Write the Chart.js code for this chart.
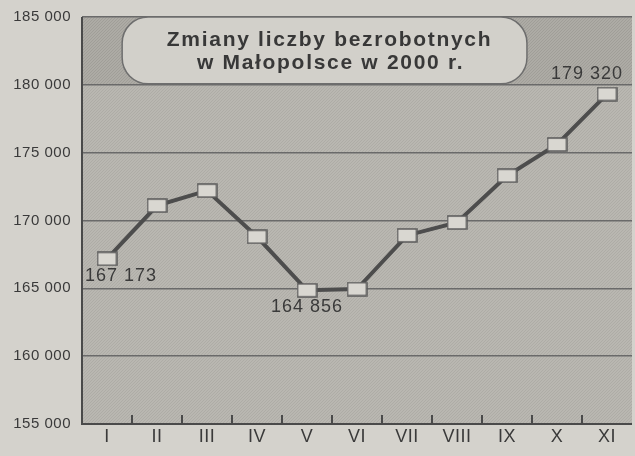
<!DOCTYPE html>
<html>
<head>
<meta charset="utf-8">
<script src="https://cdn.jsdelivr.net/npm/chart.js@4/dist/chart.umd.min.js"></script>
<style>
  html, body { margin: 0; padding: 0; background: #d4d2cc; }
  #wrap { width: 635px; height: 456px; position: relative; }
</style>
</head>
<body>
<div id="wrap"><canvas id="graphics" width="635" height="456"></canvas></div>
<script>
const months = ['I', 'II', 'III', 'IV', 'V', 'VI', 'VII', 'VIII', 'IX', 'X', 'XI'];
const unemployed = [167173, 171100, 172200, 168800, 164856, 164950, 168900, 169850, 173300, 175600, 179320];
const yTicks = [155000, 160000, 165000, 170000, 175000, 180000, 185000];
const titleLines = ['Zmiany liczby bezrobotnych', 'w Małopolsce w 2000 r.'];
const labelledPoints = [0, 4, 10];

const fmt = v => String(v).replace(/\B(?=(\d{3})+(?!\d))/g, ' ');
const FONT = '"Liberation Sans", Arial, sans-serif';

// rectangular marker
const marker = document.createElement('canvas');
marker.width = 21;
marker.height = 15;
(() => {
  const m = marker.getContext('2d');
  m.fillStyle = '#d9d7d1';
  m.fillRect(1, 1, 19, 13);
  m.strokeStyle = '#5a5a5a';
  m.lineWidth = 1.5;
  m.strokeRect(1, 1, 19, 13);
})();

// fine screen texture for the plot area
function texture(ctx, base, dot) {
  const t = document.createElement('canvas');
  t.width = 3;
  t.height = 3;
  const c = t.getContext('2d');
  c.fillStyle = base;
  c.fillRect(0, 0, 3, 3);
  c.fillStyle = dot;
  c.fillRect(0, 0, 1, 1);
  c.fillRect(2, 1, 1, 1);
  c.fillRect(1, 2, 1, 1);
  return ctx.createPattern(t, 'repeat');
}

const backdrop = {
  id: 'backdrop',
  beforeDraw(chart) {
    const { ctx, chartArea: a, scales: { y } } = chart;
    ctx.save();
    ctx.fillStyle = texture(ctx, '#b9b7b1', '#aeaca6');
    ctx.fillRect(a.left, a.top, a.right - a.left, a.bottom - a.top);
    const y180 = y.getPixelForValue(180000);
    ctx.fillStyle = texture(ctx, '#adaba5', '#a09e98');
    ctx.fillRect(a.left, a.top, a.right - a.left, y180 - a.top);
    ctx.restore();
    ctx.letterSpacing = '0.5px';
  },
  afterDatasetsDraw(chart) {
    const { ctx, chartArea: a, scales: { x, y } } = chart;
    ctx.save();
    // small ticks between months
    ctx.strokeStyle = '#4a4a4a';
    ctx.lineWidth = 2;
    for (let i = 1; i < months.length; i++) {
      const px = (x.getPixelForValue(i - 1) + x.getPixelForValue(i)) / 2;
      ctx.beginPath();
      ctx.moveTo(px, a.bottom - 9);
      ctx.lineTo(px, a.bottom);
      ctx.stroke();
    }
    // axis lines
    ctx.beginPath();
    ctx.moveTo(a.left, a.top);
    ctx.lineTo(a.left, a.bottom);
    ctx.lineTo(a.right, a.bottom);
    ctx.stroke();

    // point labels
    const meta = chart.getDatasetMeta(0);
    ctx.fillStyle = '#3a3a3a';
    ctx.font = '18px ' + FONT;
    ctx.letterSpacing = '1px';
    labelledPoints.forEach(i => {
      const p = meta.data[i];
      const txt = fmt(unemployed[i]);
      if (i === 0) {
        ctx.textAlign = 'left';
        ctx.textBaseline = 'top';
        ctx.fillText(txt, a.left + 3, p.y + 8);
      } else if (i === months.length - 1) {
        ctx.textAlign = 'center';
        ctx.textBaseline = 'bottom';
        ctx.fillText(txt, p.x - 20, p.y - 11);
      } else {
        ctx.textAlign = 'center';
        ctx.textBaseline = 'top';
        ctx.fillText(txt, p.x, p.y + 8);
      }
    });

    // title box
    const bx = a.left + (a.right - a.left) * 0.073;
    const bw = (a.right - a.left) * 0.736;
    const by = a.top;
    const bh = y.getPixelForValue(180000) - a.top - 1;
    ctx.beginPath();
    ctx.roundRect(bx, by, bw, bh, 26);
    ctx.fillStyle = '#d2d0ca';
    ctx.fill();
    ctx.strokeStyle = '#6e6e6e';
    ctx.lineWidth = 1.5;
    ctx.stroke();
    ctx.fillStyle = '#383838';
    ctx.font = 'bold 21px ' + FONT;
    ctx.letterSpacing = '1.7px';
    ctx.textAlign = 'center';
    ctx.textBaseline = 'middle';
    ctx.fillText(titleLines[0], bx + bw / 2 + 5, by + bh * 0.35);
    ctx.fillText(titleLines[1], bx + bw / 2 + 6, by + bh * 0.69);
    ctx.restore();
  },
  afterDraw(chart) {
    chart.ctx.letterSpacing = '0px';
  }
};

new Chart(document.getElementById('graphics').getContext('2d'), {
  type: 'line',
  data: {
    labels: months,
    datasets: [{
      data: unemployed,
      borderColor: '#4d4d4d',
      borderWidth: 4,
      tension: 0,
      pointStyle: marker,
      pointRadius: 10,
      pointHoverRadius: 10
    }]
  },
  options: {
    responsive: false,
    animation: false,
    layout: { autoPadding: false, padding: { top: 17, right: 3, left: 0, bottom: 0 } },
    plugins: { legend: { display: false }, tooltip: { enabled: false } },
    scales: {
      x: {
        offset: true,
        grid: { display: false, drawTicks: false },
        border: { display: false },
        ticks: {
          color: '#3a3a3a',
          font: { size: 18, family: FONT },
          padding: 2,
          maxRotation: 0
        },
        afterFit: s => { s.height = 32; s.paddingLeft = 0; s.paddingRight = 0; }
      },
      y: {
        min: 155000,
        max: 185000,
        afterBuildTicks: s => { s.ticks = yTicks.map(v => ({ value: v })); },
        grid: { color: '#6a6a6a', lineWidth: 1.5, drawTicks: false },
        border: { display: false },
        ticks: {
          color: '#3a3a3a',
          font: { size: 15, family: FONT },
          padding: 11,
          callback: v => fmt(v)
        },
        afterFit: s => { s.width = 82; s.paddingTop = 0; s.paddingBottom = 0; }
      }
    }
  },
  plugins: [backdrop]
});
</script>
</body>
</html>
